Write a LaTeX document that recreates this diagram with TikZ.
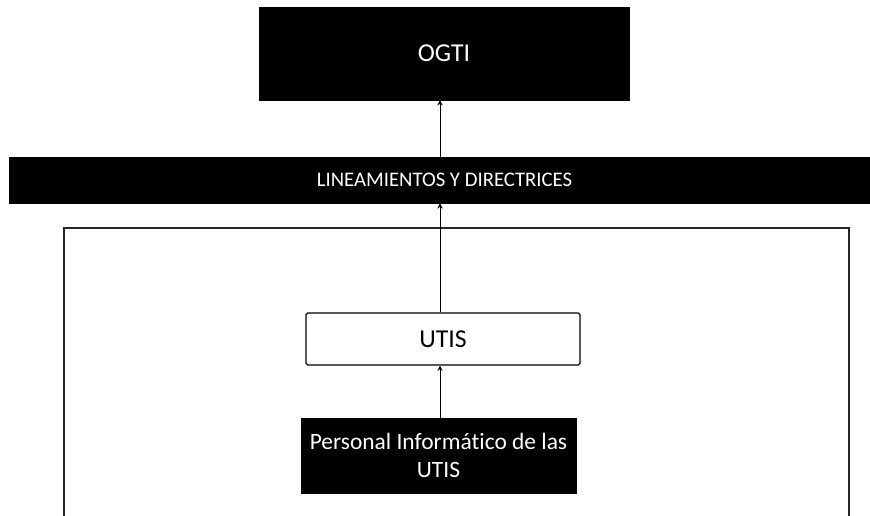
\documentclass[tikz,border=0pt]{standalone}
\usepackage{fontspec}
\setmainfont[Ligatures=NoCommon]{Carlito}
\usetikzlibrary{fit}
\usetikzlibrary{calc}
\usetikzlibrary{positioning}
\usetikzlibrary{arrows.meta}

\begin{document}
\begin{tikzpicture}[
  x=0.03cm, y=-0.03cm,
  caja/.style={draw, rectangle, fill=black, inner sep=0pt},
  cajablanca/.style={draw, rectangle, rounded corners=1.5pt, line width=1pt, fill=white, inner sep=0pt},
  texto/.style={text=white, align=center},
  flecha/.style={line width=0.8pt, -{Stealth[length=4.5pt,width=4.5pt]}},
  marco/.style={line width=1.2pt, black!85},
]
\useasboundingbox (0,0) rectangle (870,516);

\coordinate (eje) at (440,0);

\node (ogti) [caja, fit={(259,7) (629,100)},
  label={[texto, font=\fontsize{22}{26}\selectfont]center:{OGTI}}] {};
\node (lineam) [caja, fit={(9,157) (880,203)},
  label={[texto, font=\fontsize{17.7}{20}\selectfont]center:{LINEAMIENTOS Y DIRECTRICES}}] {};

\draw[marco] (64,520) -- (64,228) -- (849,228) -- (849,520);

\node (utis) [cajablanca, fit={(306,313) (580,365)},
  label={[font=\fontsize{22}{26}\selectfont]center:{UTIS}}] {};
\node (personal) [caja, fit={(301,418) (576,493)},
  label={[texto, font=\fontsize{20}{24.5}\selectfont]center:{Personal Informático de las\\UTIS}}] {};

\draw[flecha] (personal.north -| eje) -- (utis.south -| eje);
\draw[flecha] (utis.north -| eje) -- (lineam.south -| eje);
\draw[flecha] (lineam.north -| eje) -- (ogti.south -| eje);

\end{tikzpicture}
\end{document}
